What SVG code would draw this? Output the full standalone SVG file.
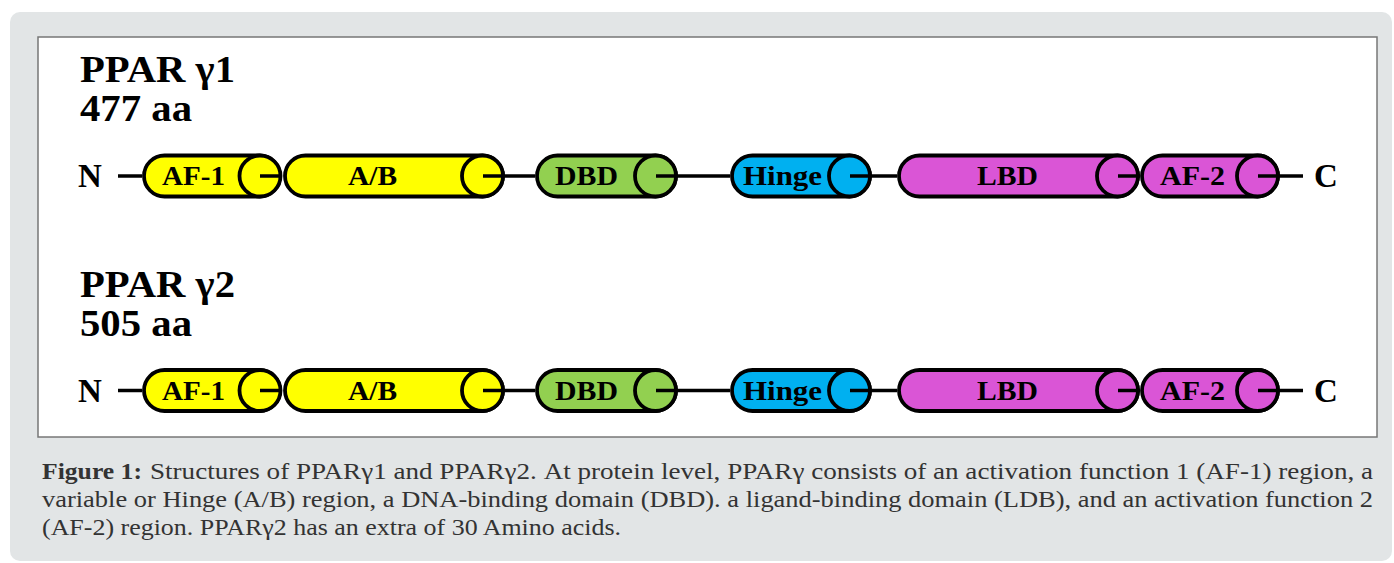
<svg xmlns="http://www.w3.org/2000/svg" width="1394" height="563" viewBox="0 0 1394 563">
<style>
.pill{stroke:#000;stroke-width:3.8}
.ln{stroke:#000;stroke-width:3.5;fill:none}
.lbl{font-family:"Liberation Serif",serif;font-weight:bold;font-size:27px;fill:#000;text-anchor:middle}
.term{font-family:"Liberation Serif",serif;font-weight:bold;font-size:33px;fill:#000}
.ttl{font-family:"Liberation Serif",serif;font-weight:bold;font-size:37px;fill:#000}
.cap{font-family:"Liberation Serif",serif;font-size:23px;fill:#333}
.y{fill:#FFFF00}.g{fill:#92D050}.b{fill:#00B0F0}.m{fill:#DA55D6}
</style>
<defs>
<g id="row">
<g id="af1"><rect class="pill y" x="144" y="-20.5" width="136" height="41" rx="20.5"/><circle class="pill y" cx="260" cy="0" r="20.5"/><text class="lbl" x="193.5" y="9" textLength="63" lengthAdjust="spacingAndGlyphs">AF-1</text></g>
<g id="ab"><rect class="pill y" x="285" y="-20.5" width="218" height="41" rx="20.5"/><circle class="pill y" cx="482.5" cy="0" r="20.5"/><text class="lbl" x="372.5" y="9" textLength="49" lengthAdjust="spacingAndGlyphs">A/B</text></g>
<g id="dbd"><rect class="pill g" x="537" y="-20.5" width="139" height="41" rx="20.5"/><circle class="pill g" cx="655.5" cy="0" r="20.5"/><text class="lbl" x="586.5" y="9" textLength="63" lengthAdjust="spacingAndGlyphs">DBD</text></g>
<g id="hinge"><rect class="pill b" x="732" y="-20.5" width="138" height="41" rx="20.5"/><circle class="pill b" cx="849.5" cy="0" r="20.5"/><text class="lbl" x="782.5" y="9" textLength="79" lengthAdjust="spacingAndGlyphs">Hinge</text></g>
<g id="lbd"><rect class="pill m" x="899" y="-20.5" width="239" height="41" rx="20.5"/><circle class="pill m" cx="1117.5" cy="0" r="20.5"/><text class="lbl" x="1007.5" y="9" textLength="61" lengthAdjust="spacingAndGlyphs">LBD</text></g>
<g id="af2"><rect class="pill m" x="1142" y="-20.5" width="136" height="41" rx="20.5"/><circle class="pill m" cx="1257.5" cy="0" r="20.5"/><text class="lbl" x="1192.5" y="9" textLength="65" lengthAdjust="spacingAndGlyphs">AF-2</text></g>
<g id="connectors">
<line class="ln" x1="118" y1="0" x2="142" y2="0"/>
<line class="ln" x1="260" y1="0" x2="282" y2="0"/>
<line class="ln" x1="483" y1="0" x2="535" y2="0"/>
<line class="ln" x1="656" y1="0" x2="730" y2="0"/>
<line class="ln" x1="850" y1="0" x2="897" y2="0"/>
<line class="ln" x1="1118" y1="0" x2="1140" y2="0"/>
<line class="ln" x1="1258" y1="0" x2="1303" y2="0"/>
</g>
<text class="term" x="78" y="11">N</text>
<text class="term" x="1314" y="11">C</text>
</g>
</defs>
<rect x="10" y="12" width="1382" height="549" rx="10" fill="#E2E5E6"/>
<rect x="38" y="37" width="1339" height="400" fill="#FFFFFF" stroke="#777" stroke-width="1.5"/>
<g id="ppar-g1">
<text class="ttl" x="80" y="82" textLength="155" lengthAdjust="spacingAndGlyphs">PPAR γ1</text>
<text class="ttl" x="80" y="121" textLength="112" lengthAdjust="spacingAndGlyphs">477 aa</text>
<use href="#row" transform="translate(0,176)"/>
</g>
<g id="ppar-g2">
<text class="ttl" x="80" y="297" textLength="155" lengthAdjust="spacingAndGlyphs">PPAR γ2</text>
<text class="ttl" x="80" y="336" textLength="112" lengthAdjust="spacingAndGlyphs">505 aa</text>
<use href="#row" transform="translate(0,390.5)"/>
</g>
<g id="caption">
<text class="cap" x="42" y="479" font-weight="bold" textLength="100" lengthAdjust="spacingAndGlyphs">Figure 1:</text>
<text class="cap" x="150" y="479" textLength="1223" lengthAdjust="spacingAndGlyphs">Structures of PPARγ1 and PPARγ2. At protein level, PPARγ consists of an activation function 1 (AF-1) region, a</text>
<text class="cap" x="42" y="507" textLength="1331" lengthAdjust="spacingAndGlyphs">variable or Hinge (A/B) region, a DNA-binding domain (DBD). a ligand-binding domain (LDB), and an activation function 2</text>
<text class="cap" x="42" y="535" textLength="579" lengthAdjust="spacingAndGlyphs">(AF-2) region. PPARγ2 has an extra of 30 Amino acids.</text>
</g>
</svg>
